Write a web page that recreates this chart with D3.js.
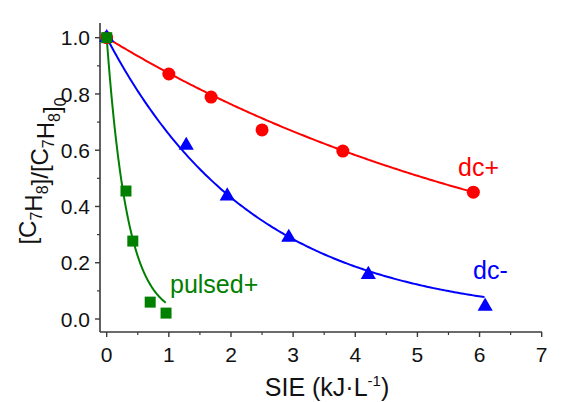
<!DOCTYPE html>
<html><head><meta charset="utf-8">
<script src="https://cdn.jsdelivr.net/npm/d3@7"></script>
<style>
html,body{margin:0;padding:0;background:#fff;}
svg{display:block;font-family:"Liberation Sans",Arial,sans-serif;}
</style></head>
<body>
<svg id="c" width="572" height="402"></svg>
<script>
// ---- data ----
const dcPlusX  = [0, 1.0, 1.68, 2.5, 3.8, 5.9];
const dcPlusY  = [1.0, 0.871, 0.789, 0.672, 0.597, 0.451];
const dcMinusX = [0, 1.28, 1.94, 2.93, 4.21, 6.09];
const dcMinusY = [1.0, 0.617, 0.437, 0.290, 0.158, 0.045];
const pulsedX  = [0, 0.31, 0.42, 0.70, 0.955];
const pulsedY  = [1.0, 0.455, 0.277, 0.060, 0.021];
// exponential-decay fit rate constants (y = exp(-k x))
const fitK     = {dcPlus: 0.135, dcMinus: 0.42, pulsed: 3.0};
const fitXEnd  = {dcPlus: 5.9, dcMinus: 6.08, pulsed: 0.95};
const xTicks = [0,1,2,3,4,5,6,7];
const yTicks = [0.0,0.2,0.4,0.6,0.8,1.0];

const svg = d3.select("#c");
const x = d3.scaleLinear().domain([0,7]).range([106.7, 541.7]);
const y = d3.scaleLinear().domain([0,1]).range([319, 37.7]);
const xLeft = 100, yBottom = 332, yTop = 23, xRight = 542;
const axisColor = "#3a3a3a";

// axes
const gx = svg.append("g").attr("transform",`translate(0,${yBottom})`);
gx.append("line").attr("x1",xLeft).attr("x2",xRight).attr("stroke",axisColor).attr("stroke-width",1.6);
gx.selectAll("line.maj").data(xTicks).join("line").attr("class","maj")
  .attr("x1",d=>x(d)).attr("x2",d=>x(d)).attr("y1",0).attr("y2",5).attr("stroke",axisColor).attr("stroke-width",1.4);
gx.selectAll("line.min").data(d3.range(0.5,7,1)).join("line").attr("class","min")
  .attr("x1",d=>x(d)).attr("x2",d=>x(d)).attr("y1",0).attr("y2",3).attr("stroke",axisColor).attr("stroke-width",1.2);
gx.selectAll("text").data(xTicks).join("text")
  .attr("x",d=>x(d)).attr("y",29.5).attr("text-anchor","middle")
  .attr("font-size",21).attr("fill","#111").text(d=>d);

const gy = svg.append("g").attr("transform",`translate(${xLeft},0)`);
gy.append("line").attr("y1",yTop).attr("y2",yBottom).attr("stroke",axisColor).attr("stroke-width",1.6);
gy.selectAll("line.maj").data(yTicks).join("line").attr("class","maj")
  .attr("y1",d=>y(d)).attr("y2",d=>y(d)).attr("x1",0).attr("x2",-5).attr("stroke",axisColor).attr("stroke-width",1.4);
gy.selectAll("line.min").data(d3.range(0.1,1.05,0.2)).join("line").attr("class","min")
  .attr("y1",d=>y(d)).attr("y2",d=>y(d)).attr("x1",0).attr("x2",-3).attr("stroke",axisColor).attr("stroke-width",1.2);
gy.selectAll("text").data(yTicks).join("text")
  .attr("x",-10).attr("y",d=>y(d)).attr("dy","0.36em").attr("text-anchor","end")
  .attr("font-size",21).attr("fill","#111").text(d=>d.toFixed(1));

// axis titles
const xt = svg.append("text").attr("x",327).attr("y",396).attr("text-anchor","middle")
  .attr("font-size",25).attr("fill","#111");
xt.append("tspan").text("SIE (kJ·L");
xt.append("tspan").attr("font-size",15).attr("dy",-10).text("-1");
xt.append("tspan").attr("dy",10).text(")");

const yt = svg.append("text").attr("transform","translate(36,171) rotate(-90)")
  .attr("text-anchor","middle").attr("font-size",24).attr("fill","#111");
const sub = (t)=>{yt.append("tspan").attr("font-size",16).attr("dy",6).text(t); yt.append("tspan").attr("dy",-6).text("");};
yt.append("tspan").text("[C"); sub("7");
yt.append("tspan").text("H"); sub("8");
yt.append("tspan").text("]/[C"); sub("7");
yt.append("tspan").text("H"); sub("8");
yt.append("tspan").text("]"); sub("0");

// series
const series = [
  {xs:dcPlusX, ys:dcPlusY, k:fitK.dcPlus, xe:fitXEnd.dcPlus, color:"#ff0000", sym:d3.symbolCircle, size:133},
  {xs:dcMinusX, ys:dcMinusY, k:fitK.dcMinus, xe:fitXEnd.dcMinus, color:"#0000ff", sym:d3.symbolTriangle, size:100},
  {xs:pulsedX, ys:pulsedY, k:fitK.pulsed, xe:fitXEnd.pulsed, color:"#008000", sym:d3.symbolSquare, size:121},
];
const line = d3.line().x(d=>x(d[0])).y(d=>y(d[1])).curve(d3.curveLinear);
series.forEach(s=>{
  const pts = d3.range(0, 201).map(i=>{const xv = s.xe*i/200; return [xv, Math.exp(-s.k*xv)];});
  svg.append("path").attr("d",line(pts)).attr("fill","none").attr("stroke",s.color).attr("stroke-width",2);
});
series.forEach(s=>{
  svg.append("g").selectAll("path").data(s.xs.map((v,i)=>[v,s.ys[i]])).join("path")
    .attr("transform",d=>`translate(${x(d[0])},${y(d[1])})`)
    .attr("d",d3.symbol().type(s.sym).size(s.size)).attr("fill",s.color);
});

// series labels
svg.append("text").attr("x",458).attr("y",176).attr("font-size",25).attr("fill","#ff0000").text("dc+");
svg.append("text").attr("x",473).attr("y",279).attr("font-size",25).attr("fill","#0000ff").text("dc-");
svg.append("text").attr("x",170).attr("y",293).attr("font-size",25).attr("fill","#008000").text("pulsed+");
</script>
</body></html>
